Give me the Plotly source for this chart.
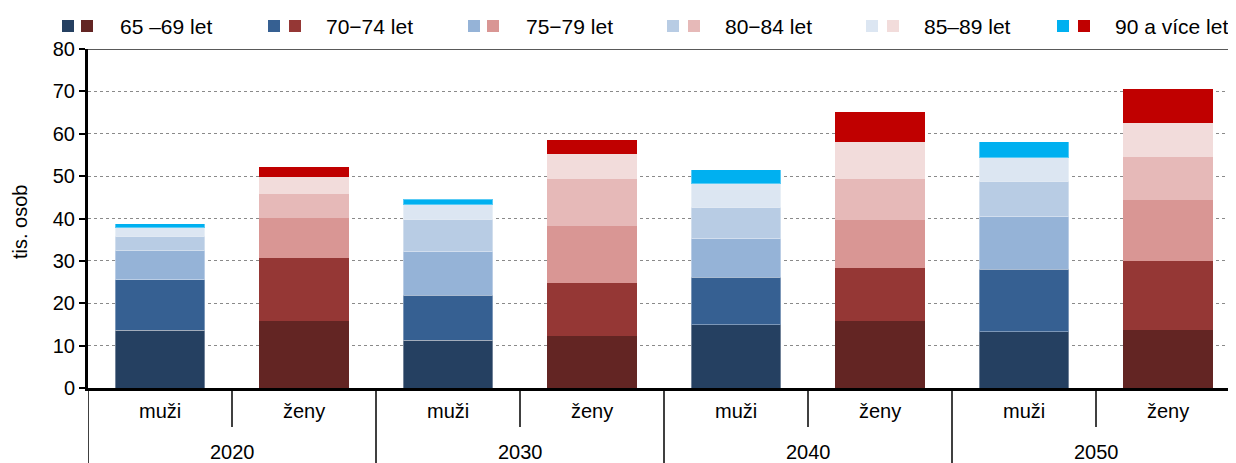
"""Stacked bars: persons aged 65+ by sex and age group, 2020-2050."""
import plotly.graph_objects as go

years = ["2020", "2030", "2040", "2050"]
sexes = ["muži", "ženy"]
age_groups = ["65 –69 let", "70−74 let", "75−79 let", "80−84 let", "85–89 let", "90 a více let"]

# thousands of persons, one value per year
muzi_65_69 = [13.6, 11.25, 14.9, 13.25]
muzi_70_74 = [12.0, 10.65, 11.25, 14.8]
muzi_75_79 = [6.8, 10.4, 9.2, 12.5]
muzi_80_84 = [3.4, 7.5, 7.3, 8.3]
muzi_85_89 = [2.0, 3.4, 5.6, 5.5]
muzi_90 = [0.95, 1.4, 3.25, 3.8]

zeny_65_69 = [15.7, 12.35, 15.75, 13.6]
zeny_70_74 = [14.9, 12.5, 12.5, 16.3]
zeny_75_79 = [9.45, 13.45, 11.35, 14.4]
zeny_80_84 = [5.7, 11.1, 9.7, 10.2]
zeny_85_89 = [4.0, 5.9, 8.75, 8.0]
zeny_90 = [2.35, 3.3, 7.0, 8.0]

muzi = [muzi_65_69, muzi_70_74, muzi_75_79, muzi_80_84, muzi_85_89, muzi_90]
zeny = [zeny_65_69, zeny_70_74, zeny_75_79, zeny_80_84, zeny_85_89, zeny_90]

blue = ["#254061", "#366092", "#95B3D7", "#B8CCE4", "#DCE6F2", "#00B0F0"]
red = ["#632523", "#953735", "#D99694", "#E6B9B8", "#F2DCDB", "#C00000"]

FONT = "Liberation Sans, Arial, sans-serif"
OFF = 8  # page body margin
W, H = 1236, 463
ML, MT, MB, MR = 88 - OFF, 49 - OFF, 463 - 388 + OFF, 4
PLOT_W, PLOT_H = W - ML - MR, H - MT - MB

# legend layout in window pixels: left edge of blue square, red square, label
legend_x = [(62, 81, 118), (268, 289, 324), (468, 487, 524),
            (667, 688, 723), (866, 887, 922), (1057, 1078, 1113)]
legend_y = 26


def px_x(px):
    return (px - OFF - ML) / PLOT_W


def px_y(py):
    return (H - MB - (py - OFF)) / PLOT_H


categories = [f"{y} {s}" for y in years for s in sexes]
x_muzi = [f"{y} muži" for y in years]
x_zeny = [f"{y} ženy" for y in years]

fig = go.Figure()
for i, name in enumerate(age_groups):
    fig.add_trace(go.Bar(x=x_muzi, y=muzi[i], name=name, marker_color=blue[i],
                         marker_line=dict(color="rgba(255,255,255,0.35)", width=1),
                         width=0.62, showlegend=False))
    fig.add_trace(go.Bar(x=x_zeny, y=zeny[i], name=name, marker_color=red[i],
                         marker_line_width=0, width=0.62, showlegend=False))

shapes = []
annotations = []

# category axis: inner labels, outer labels and dividers
for i, cat in enumerate(categories):
    annotations.append(dict(x=i, y=0, xref="x", yref="paper", yshift=-36,
                            text=cat.split(" ")[1], showarrow=False,
                            font=dict(size=20, color="black")))
for k, year in enumerate(years):
    annotations.append(dict(x=2 * k + 0.5, y=0, xref="x", yref="paper", yshift=-77,
                            text=year, showarrow=False,
                            font=dict(size=20, color="black")))
for b in range(len(categories) + 1):
    y1 = px_y(480) if b % 2 == 0 else px_y(427)
    shapes.append(dict(type="line", xref="x", yref="paper", x0=b - 0.5, x1=b - 0.5,
                       y0=0, y1=y1, line=dict(color="black", width=1.5)))

# top border of the plot area
shapes.append(dict(type="line", xref="paper", yref="y", x0=0, x1=1, y0=80, y1=80,
                   line=dict(color="#222", width=1.5)))

# y axis title
annotations.append(dict(x=px_x(20), y=px_y(222), xref="paper", yref="paper",
                        xanchor="center", yanchor="middle",
                        text="tis. osob", textangle=-90, showarrow=False,
                        font=dict(size=20, color="black")))

# legend: blue + red square per age group
for i, name in enumerate(age_groups):
    bx, rx, tx = legend_x[i]
    for sx, col in ((bx, blue[i]), (rx, red[i])):
        shapes.append(dict(type="rect", xref="paper", yref="paper",
                           x0=px_x(sx), x1=px_x(sx + 12),
                           y0=px_y(legend_y + 6), y1=px_y(legend_y - 6),
                           fillcolor=col, line_width=0))
    annotations.append(dict(x=px_x(tx), y=px_y(legend_y), xref="paper", yref="paper",
                            xanchor="left", yanchor="middle", text=name, showarrow=False,
                            font=dict(size=21, color="black")))

fig.update_layout(
    width=W, height=H,
    margin=dict(l=ML, r=MR, t=MT, b=MB),
    barmode="stack",
    plot_bgcolor="white", paper_bgcolor="white",
    font=dict(family=FONT, size=19, color="black"),
    shapes=shapes, annotations=annotations,
    showlegend=False,
)
fig.update_xaxes(type="category", categoryorder="array", categoryarray=categories,
                 range=[-0.5, 7.5], showticklabels=False, ticks="",
                 showline=True, linecolor="black", linewidth=3, showgrid=False)
fig.update_yaxes(range=[0, 80], dtick=10, ticks="outside", ticklen=6, tickwidth=2,
                 tickcolor="black", showline=True, linecolor="black", linewidth=3,
                 showgrid=True, gridcolor="#8a8a8a", griddash="dot", gridwidth=1,
                 zeroline=False, tickfont=dict(size=20))

fig.write_html("out.html")
